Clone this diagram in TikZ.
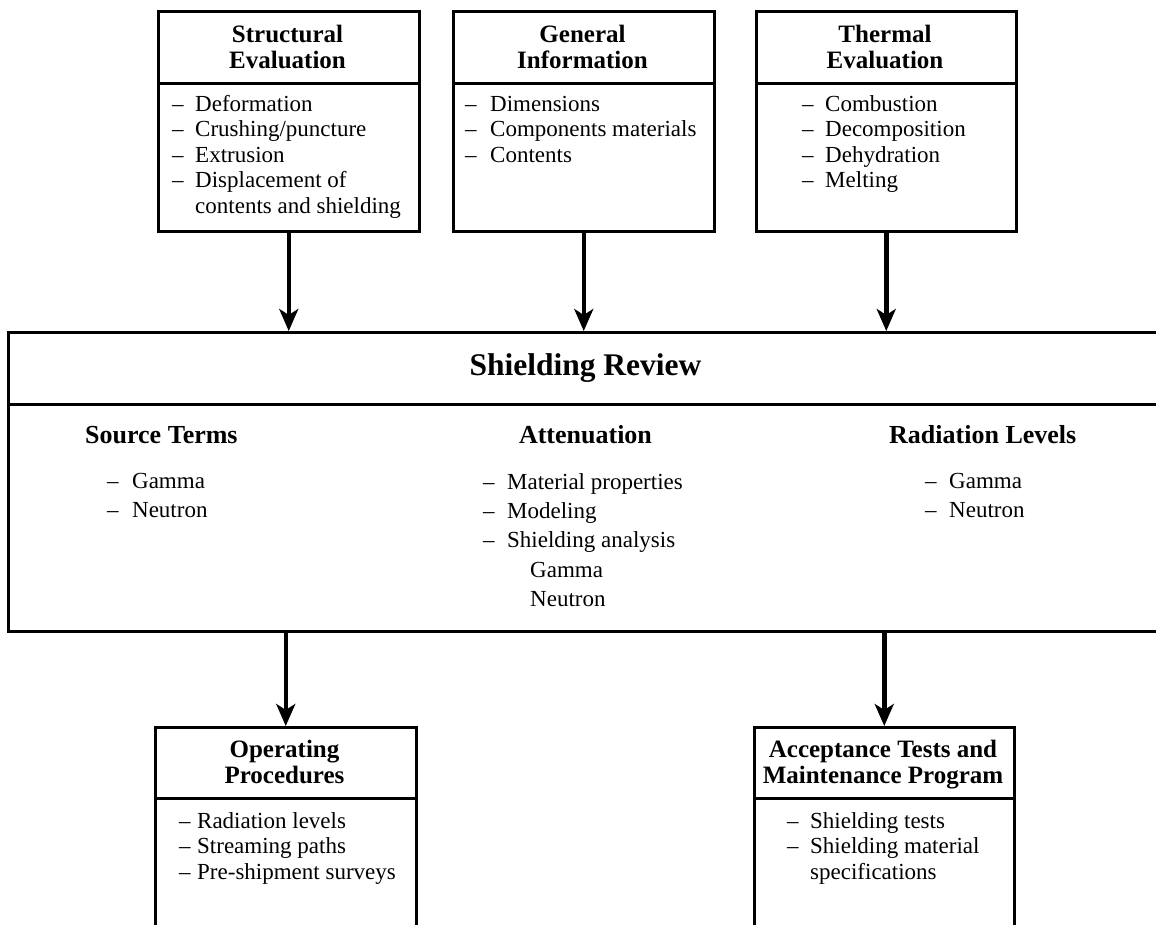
\documentclass[tikz,border=0pt]{standalone}
\usepackage{fontspec}
\setmainfont{Liberation Serif}
\usetikzlibrary{arrows.meta}
\newcommand{\dashlist}[2]{\begin{tabular}[t]{@{}p{#1}@{}l@{}}#2\end{tabular}}
\begin{document}
\begin{tikzpicture}[x=1pt,y=-1pt,
  pane/.style={draw, line width=2.5pt, inner sep=0pt, anchor=north west},
  bigpane/.style={pane, line width=3pt},
  txt/.style={inner sep=0pt, anchor=base west, font=\fontsize{23}{25.5}\selectfont},
  wtxt/.style={inner sep=0pt, anchor=base west, font=\fontsize{23}{29.4}\selectfont},
  hdr/.style={inner sep=0pt, anchor=base, font=\fontsize{25}{26.2}\selectfont\bfseries},
  subhdr/.style={inner sep=0pt, font=\fontsize{26}{28}\selectfont\bfseries},
  arr/.style={line width=4.5pt, -{Stealth[length=22pt,width=19pt,inset=6pt]}}
]
\fill[white] (0,0) rectangle (1156,924);
\useasboundingbox (0,0) rectangle (1156,924);

% top boxes
\node[pane, minimum width=261pt, minimum height=72pt] (seh) at (157,10) {};
\node[pane, minimum width=261pt, minimum height=148pt] (seb) at (157,82) {};
\node[pane, minimum width=261pt, minimum height=72pt] (gih) at (452,10) {};
\node[pane, minimum width=261pt, minimum height=148pt] (gib) at (452,82) {};
\node[pane, minimum width=260pt, minimum height=72pt] (teh) at (755,10) {};
\node[pane, minimum width=260pt, minimum height=148pt] (teb) at (755,82) {};

\node[hdr] (set) at (287.5,42) {\begin{tabular}[t]{@{}c@{}}Structural\\Evaluation\end{tabular}};
\node[hdr] (git) at (582.5,42) {\begin{tabular}[t]{@{}c@{}}General\\Information\end{tabular}};
\node[hdr] (tet) at (885,42) {\begin{tabular}[t]{@{}c@{}}Thermal\\Evaluation\end{tabular}};

\node[txt] (sel) at (172,111) {\dashlist{23pt}{-- & Deformation\\ -- & Crushing/puncture\\ -- & Extrusion\\ -- & Displacement of\\ & contents and shielding}};
\node[txt] (gil) at (465,111) {\dashlist{25pt}{-- & Dimensions\\ -- & Components materials\\ -- & Contents}};
\node[txt] (tel) at (802,111) {\dashlist{23pt}{-- & Combustion\\ -- & Decomposition\\ -- & Dehydration\\ -- & Melting}};

% shielding review
\node[bigpane, minimum width=1163pt, minimum height=72pt] (srh) at (7,331) {};
\node[bigpane, minimum width=1163pt, minimum height=227pt] (srb) at (7,403) {};
\node[inner sep=0pt, anchor=base, font=\fontsize{31.5}{33}\selectfont\bfseries] (srt) at (585.5,375) {Shielding Review};

\node[subhdr, anchor=base west] (stt) at (85,443) {Source Terms};
\node[subhdr, anchor=base] (att) at (585.5,443) {Attenuation};
\node[subhdr, anchor=base west] (rlt) at (889,443) {Radiation Levels};

\node[wtxt] (stl) at (107,488) {\dashlist{25pt}{-- & Gamma\\ -- & Neutron}};
\node[wtxt] (atl) at (483,489) {\dashlist{24pt}{-- & Material properties\\ -- & Modeling\\ -- & Shielding analysis\\ & \hspace*{23pt}Gamma\\ & \hspace*{23pt}Neutron}};
\node[wtxt] (rll) at (925,488) {\dashlist{24pt}{-- & Gamma\\ -- & Neutron}};

% bottom boxes
\node[pane, minimum width=261pt, minimum height=71pt] (oph) at (154,726) {};
\node[pane, minimum width=261pt, minimum height=170pt] (opb) at (154,797) {};
\node[pane, minimum width=260pt, minimum height=71pt] (ath) at (753,726) {};
\node[pane, minimum width=260pt, minimum height=170pt] (atb) at (753,797) {};

\node[hdr] (opt) at (284.5,757) {\begin{tabular}[t]{@{}c@{}}Operating\\Procedures\end{tabular}};
\node[hdr] (att2) at (883,757) {\begin{tabular}[t]{@{}c@{}}Acceptance Tests and\\Maintenance Program\end{tabular}};

\node[txt] (opl) at (179,828) {\dashlist{18pt}{-- & Radiation levels\\ -- & Streaming paths\\ -- & Pre-shipment surveys}};
\node[txt] (atl2) at (787,828) {\dashlist{23pt}{-- & Shielding tests\\ -- & Shielding material\\ & specifications}};

% arrows
\draw[arr] (seb.south) -- (seb.south |- srh.north);
\draw[arr] (gib.south) -- (gib.south |- srh.north);
\draw[arr] (teb.south) -- (teb.south |- srh.north);
\draw[arr] (oph.north |- srb.south) -- (oph.north);
\draw[arr] (ath.north |- srb.south) -- (ath.north);
\end{tikzpicture}
\end{document}
